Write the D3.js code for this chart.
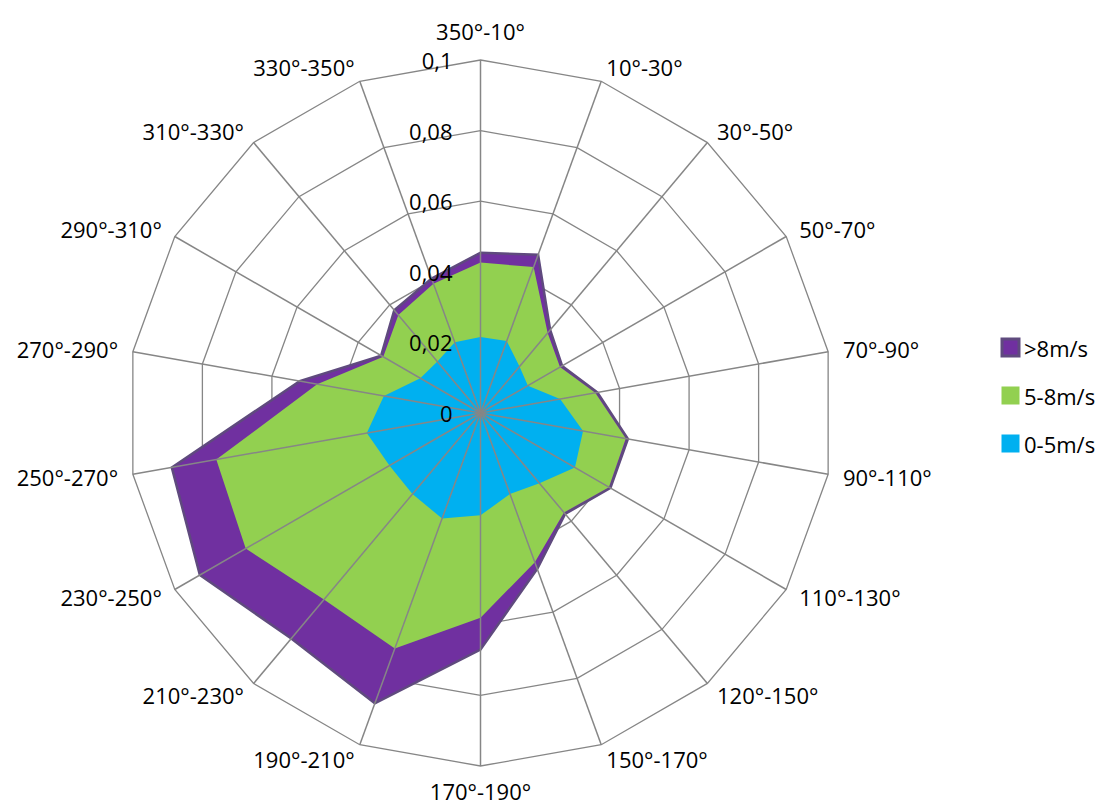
<!DOCTYPE html>
<html>
<head>
<meta charset="utf-8">
<script src="https://cdn.jsdelivr.net/npm/d3@7"></script>
<style>
  html, body { margin: 0; padding: 0; background: #ffffff; }
  svg { display: block; }
  text { font-family: "Open Sans", "Noto Sans", sans-serif; fill: #000; }
</style>
</head>
<body>
<svg id="chart" width="1105" height="807"></svg>
<script>
// Wind direction sectors (clockwise from north)
const categories = [
  "350°-10°", "10°-30°", "30°-50°", "50°-70°", "70°-90°", "90°-110°",
  "110°-130°", "120°-150°", "150°-170°", "170°-190°", "190°-210°", "210°-230°",
  "230°-250°", "250°-270°", "270°-290°", "290°-310°", "310°-330°", "330°-350°"
];

// Radial axis
const tickValues = [0, 0.02, 0.04, 0.06, 0.08, 0.1];
const tickLabels = ["0", "0,02", "0,04", "0,06", "0,08", "0,1"];

// Cumulative frequency per sector for each wind-speed class
const speedHigh = [0.0454, 0.0477, 0.0307, 0.0267, 0.0336, 0.0424, 0.0425, 0.0373, 0.047,
                   0.067, 0.0875, 0.0834, 0.0918, 0.0888, 0.052, 0.0325, 0.038, 0.0405];
const speedMid  = [0.0426, 0.044, 0.0296, 0.026, 0.033, 0.0418, 0.042, 0.0368, 0.045,
                   0.058, 0.071, 0.069, 0.0768, 0.076, 0.047, 0.0318, 0.0362, 0.039];
const speedLow  = [0.0215, 0.0217, 0.0172, 0.0155, 0.0229, 0.0295, 0.0309, 0.026, 0.0244,
                   0.029, 0.0318, 0.030, 0.0298, 0.0327, 0.0278, 0.0197, 0.019, 0.0213];

const seriesNames = [">8m/s", "5-8m/s", "0-5m/s"];
const seriesColors = ["#7030A0", "#92D050", "#00B0F0"];

const series = [
  { name: seriesNames[0], values: speedHigh, fill: seriesColors[0], stroke: "#5F4A7E", strokeWidth: 2.5 },
  { name: seriesNames[1], values: speedMid,  fill: seriesColors[1], stroke: "none", strokeWidth: 0 },
  { name: seriesNames[2], values: speedLow,  fill: seriesColors[2], stroke: "none", strokeWidth: 0 }
];

const svg = d3.select("#chart");
const cx = 480.5, cy = 413, R = 353;
const gridColor = "#868686";

const r = d3.scaleLinear().domain([0, 0.1]).range([0, R]);
const angle = d3.scaleLinear().domain([0, categories.length]).range([0, 2 * Math.PI]);

const g = svg.append("g").attr("transform", `translate(${cx},${cy})`);

const pt = (i, v) => [Math.sin(angle(i)) * r(v), -Math.cos(angle(i)) * r(v)];

// Concentric grid polygons
g.append("g").selectAll("path")
  .data(tickValues.slice(1))
  .join("path")
  .attr("d", v => d3.line()(categories.map((c, i) => pt(i, v))) + "Z")
  .attr("fill", "none")
  .attr("stroke", gridColor)
  .attr("stroke-width", 1.3);

// Filled series, largest first
const radial = d3.lineRadial()
  .angle((d, i) => angle(i))
  .radius(d => r(d))
  .curve(d3.curveLinearClosed);

g.append("g").selectAll("path")
  .data(series)
  .join("path")
  .attr("d", s => radial(s.values))
  .attr("fill", s => s.fill)
  .attr("stroke", s => s.stroke)
  .attr("stroke-width", s => s.strokeWidth)
  .attr("stroke-linejoin", "miter");

// Spokes drawn over the fills
g.append("g").selectAll("line")
  .data(categories)
  .join("line")
  .attr("x1", 0).attr("y1", 0)
  .attr("x2", (c, i) => pt(i, 0.1)[0])
  .attr("y2", (c, i) => pt(i, 0.1)[1])
  .attr("stroke", gridColor)
  .attr("stroke-width", 1.5);

// Radial tick labels along the north spoke
g.append("g").selectAll("text")
  .data(tickValues)
  .join("text")
  .attr("x", -28)
  .attr("y", v => -r(v))
  .attr("text-anchor", "end")
  .attr("dominant-baseline", "central")
  .attr("font-size", 22)
  .text((v, i) => tickLabels[i]);

// Sector labels around the outside
g.append("g").selectAll("text")
  .data(categories)
  .join("text")
  .each(function (c, i) {
    const a = angle(i);
    const s = Math.sin(a), co = Math.cos(a);
    const [vx, vy] = pt(i, 0.1);
    const t = d3.select(this);
    if (Math.abs(s) < 1e-6) {
      t.attr("x", vx).attr("y", vy - Math.sign(co) * (co > 0 ? 29 : 25)).attr("text-anchor", "middle");
    } else {
      t.attr("x", vx + 15 * s).attr("y", vy - 15 * co)
       .attr("text-anchor", s > 0 ? "start" : "end");
    }
  })
  .attr("dominant-baseline", "central")
  .attr("font-size", 22)
  .text(c => c);

// Legend
const legend = svg.append("g").attr("transform", "translate(1001,338)");
const items = legend.selectAll("g")
  .data(series)
  .join("g")
  .attr("transform", (s, i) => `translate(0,${i * 48})`);
items.append("rect")
  .attr("x", 1).attr("y", 1)
  .attr("width", 17).attr("height", 17)
  .attr("fill", s => s.fill)
  .attr("stroke", s => s.stroke === "none" ? s.fill : s.stroke)
  .attr("stroke-width", s => s.stroke === "none" ? 1 : 3);
items.append("text")
  .attr("x", 23).attr("y", 10)
  .attr("dominant-baseline", "central")
  .attr("font-size", 22)
  .text(s => s.name);
</script>
</body>
</html>
